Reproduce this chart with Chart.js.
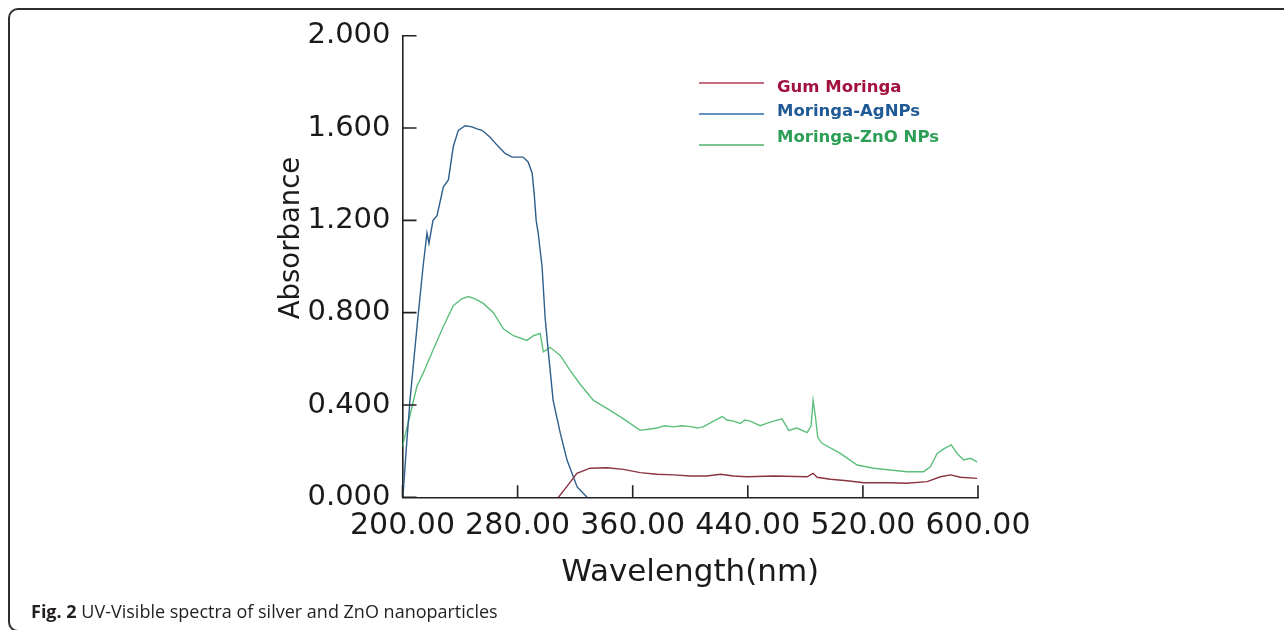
<!DOCTYPE html>
<html>
<head>
<meta charset="utf-8">
<script src="https://cdn.jsdelivr.net/npm/chart.js@4"></script>
<style>
  html, body { margin: 0; padding: 0; background: #fff; }
  body { width: 1284px; height: 630px; position: relative; overflow: hidden; }
  #frame { position: absolute; left: 8px; top: 8px; width: 1300px; height: 620px;
           border: 2px solid #2e2e2e; border-radius: 10px; }
  #chart { position: absolute; left: 0; top: 0; }
  #caption { position: absolute; left: 31px; top: 599px; font-family: "Open Sans"; font-size: 18px;
             line-height: 24px; color: #231f20; white-space: nowrap; }
</style>
</head>
<body>
<div id="frame"></div>
<canvas id="chart" width="1284" height="630"></canvas>
<div id="caption"><b>Fig. 2</b> UV-Visible spectra of silver and ZnO nanoparticles</div>
<script>
// values (wavelength in nm, absorbance)
const gumWl  = [308.4, 314.2, 321.2, 330.4, 342.1, 353.6, 365.2, 376.8, 388.4, 400, 411.6, 420.9, 430.1, 439.4,
                458, 481.2, 485.4, 488.2, 497.4, 509, 520.6, 539.1, 550.7, 564.7, 573.9, 580.9, 587.8, 599.4];
const gumAbs = [0, 0.046, 0.104, 0.126, 0.128, 0.121, 0.107, 0.100, 0.097, 0.092, 0.092, 0.100, 0.092, 0.089,
                0.092, 0.089, 0.104, 0.087, 0.078, 0.072, 0.063, 0.063, 0.061, 0.068, 0.089, 0.097, 0.087, 0.082];

const agWl  = [200.3, 202.5, 205.2, 210.1, 214.3, 217.0, 218.4, 221.2, 224.0, 228.4, 231.9, 235.3, 238.8, 243.5,
               248.3, 251.8, 255.3, 260.9, 265.7, 271.3, 276.2, 280.3, 283.8, 287.3, 290.1, 291.5, 292.9, 294.3,
               297.0, 299.1, 301.2, 304.7, 309.6, 314.4, 321.4, 328.3];
const agAbs = [0.00, 0.20, 0.42, 0.74, 1.00, 1.145, 1.10, 1.20, 1.22, 1.345, 1.375, 1.52, 1.59, 1.61,
               1.605, 1.596, 1.59, 1.56, 1.526, 1.49, 1.474, 1.474, 1.474, 1.453, 1.405, 1.318, 1.20, 1.145,
               1.00, 0.78, 0.64, 0.42, 0.28, 0.16, 0.045, 0.00];

const znoWl  = [200, 205, 210, 214.5, 221.4, 228.4, 235.3, 241.2, 245.8, 250.4, 256.2, 263.2, 270.1, 277.1,
                286.4, 291, 295.7, 297.9, 302.6, 309.6, 316.5, 323.5, 332.7, 342.1, 353.6, 365.2, 371, 376.8,
                382, 388.4, 394, 400.4, 405, 409.3, 416.2, 422.1, 425.5, 430, 434.8, 438, 441.7, 445, 448.7,
                453, 458, 463.8, 468.4, 474.2, 481.2, 484, 485.4, 487, 488.6, 491.6, 504.3, 516, 527.5, 539.1,
                550.7, 562.3, 567, 571.6, 576.2, 581.4, 585.5, 590.1, 594.8, 599.4];
const znoAbs = [0.22, 0.35, 0.48, 0.54, 0.64, 0.74, 0.83, 0.86, 0.87, 0.86, 0.84, 0.80, 0.73, 0.70,
                0.68, 0.70, 0.71, 0.63, 0.65, 0.615, 0.55, 0.49, 0.42, 0.385, 0.34, 0.29, 0.295, 0.30,
                0.31, 0.305, 0.31, 0.306, 0.30, 0.306, 0.33, 0.35, 0.335, 0.33, 0.32, 0.335, 0.33, 0.32, 0.31,
                0.32, 0.33, 0.34, 0.29, 0.30, 0.28, 0.31, 0.42, 0.35, 0.26, 0.234, 0.19, 0.14, 0.126, 0.118,
                0.111, 0.111, 0.133, 0.19, 0.21, 0.227, 0.19, 0.162, 0.169, 0.154];

const seriesNames = ['Gum Moringa', 'Moringa-AgNPs', 'Moringa-ZnO NPs'];
const lineColors = ['#8a3440', '#2d5e8c', '#5cbf7c'];
const legendLineColors = ['#b03a50', '#2f6db0', '#4db06a'];
const legendTextColors = ['#a3123e', '#1f5a96', '#2c9e55'];

const toPoints = (wl, abs) => wl.map((x, i) => ({ x: x, y: abs[i] }));

// ticks point inward from the two axis lines
const insideTicks = {
  id: 'insideTicks',
  afterDraw(chart) {
    const ctx = chart.ctx, area = chart.chartArea;
    const xs = chart.scales.x, ys = chart.scales.y;
    ctx.save();
    ctx.strokeStyle = '#222';
    ctx.lineWidth = 1.6;
    ctx.beginPath();
    ys.ticks.forEach(t => {
      const py = ys.getPixelForValue(t.value);
      ctx.moveTo(area.left, py);
      ctx.lineTo(area.left + 14, py);
    });
    xs.ticks.forEach(t => {
      const px = xs.getPixelForValue(t.value);
      ctx.moveTo(px, area.bottom);
      ctx.lineTo(px, area.bottom - 12);
    });
    ctx.stroke();

    // y title sits higher than the middle of the axis
    ctx.translate(299, 238);
    ctx.rotate(-Math.PI / 2);
    ctx.font = '27.5px "DejaVu Sans"';
    ctx.fillStyle = '#1a1a1a';
    ctx.textAlign = 'center';
    ctx.textBaseline = 'alphabetic';
    ctx.fillText('Absorbance', 0, 0);
    ctx.restore();
  }
};

const sideLegend = {
  id: 'sideLegend',
  afterDraw(chart) {
    const ctx = chart.ctx;
    const lineY = [83, 114, 145];
    const textY = [88, 112, 138];
    ctx.save();
    chart.data.datasets.forEach((ds, i) => {
      ctx.strokeStyle = legendLineColors[i];
      ctx.lineWidth = 1.4;
      ctx.beginPath();
      ctx.moveTo(699, lineY[i]);
      ctx.lineTo(764, lineY[i]);
      ctx.stroke();
      ctx.font = 'bold 16.5px "DejaVu Sans"';
      ctx.fillStyle = legendTextColors[i];
      ctx.textAlign = 'left';
      ctx.textBaseline = 'middle';
      ctx.fillText(ds.label, 777, textY[i]);
    });
    ctx.restore();
  }
};

const makeSet = (i, wl, abs) => ({
  label: seriesNames[i],
  data: toPoints(wl, abs),
  borderColor: lineColors[i],
  borderWidth: 1.4,
  pointRadius: 0,
  tension: 0,
  fill: false
});

new Chart(document.getElementById('chart'), {
  type: 'line',
  data: {
    datasets: [
      makeSet(0, gumWl, gumAbs),
      makeSet(1, agWl, agAbs),
      makeSet(2, znoWl, znoAbs)
    ]
  },
  options: {
    responsive: false,
    animation: false,
    layout: { padding: { left: 290, right: 306, top: 35.7, bottom: 38 } },
    plugins: { legend: { display: false }, tooltip: { enabled: false } },
    scales: {
      x: {
        type: 'linear', min: 200, max: 600,
        afterFit: s => { s.height = 94.7; },
        border: { color: '#222', width: 1.6 },
        grid: { display: false, drawTicks: false },
        ticks: {
          stepSize: 80, autoSkip: false, maxRotation: 0, padding: 11,
          color: '#1a1a1a', font: { family: 'DejaVu Sans', size: 30 },
          callback: v => v.toFixed(2)
        },
        title: {
          display: true, text: 'Wavelength(nm)', padding: 0, color: '#1a1a1a',
          font: { family: 'DejaVu Sans', size: 31 }
        }
      },
      y: {
        min: 0, max: 2,
        afterFit: s => { s.width = 112.5; },
        border: { color: '#222', width: 1.6 },
        grid: { display: false, drawTicks: false },
        ticks: {
          stepSize: 0.4, padding: 12,
          color: '#1a1a1a', font: { family: 'DejaVu Sans', size: 29 },
          callback: v => v.toFixed(3)
        }
      }
    }
  },
  plugins: [insideTicks, sideLegend]
});
</script>
</body>
</html>
